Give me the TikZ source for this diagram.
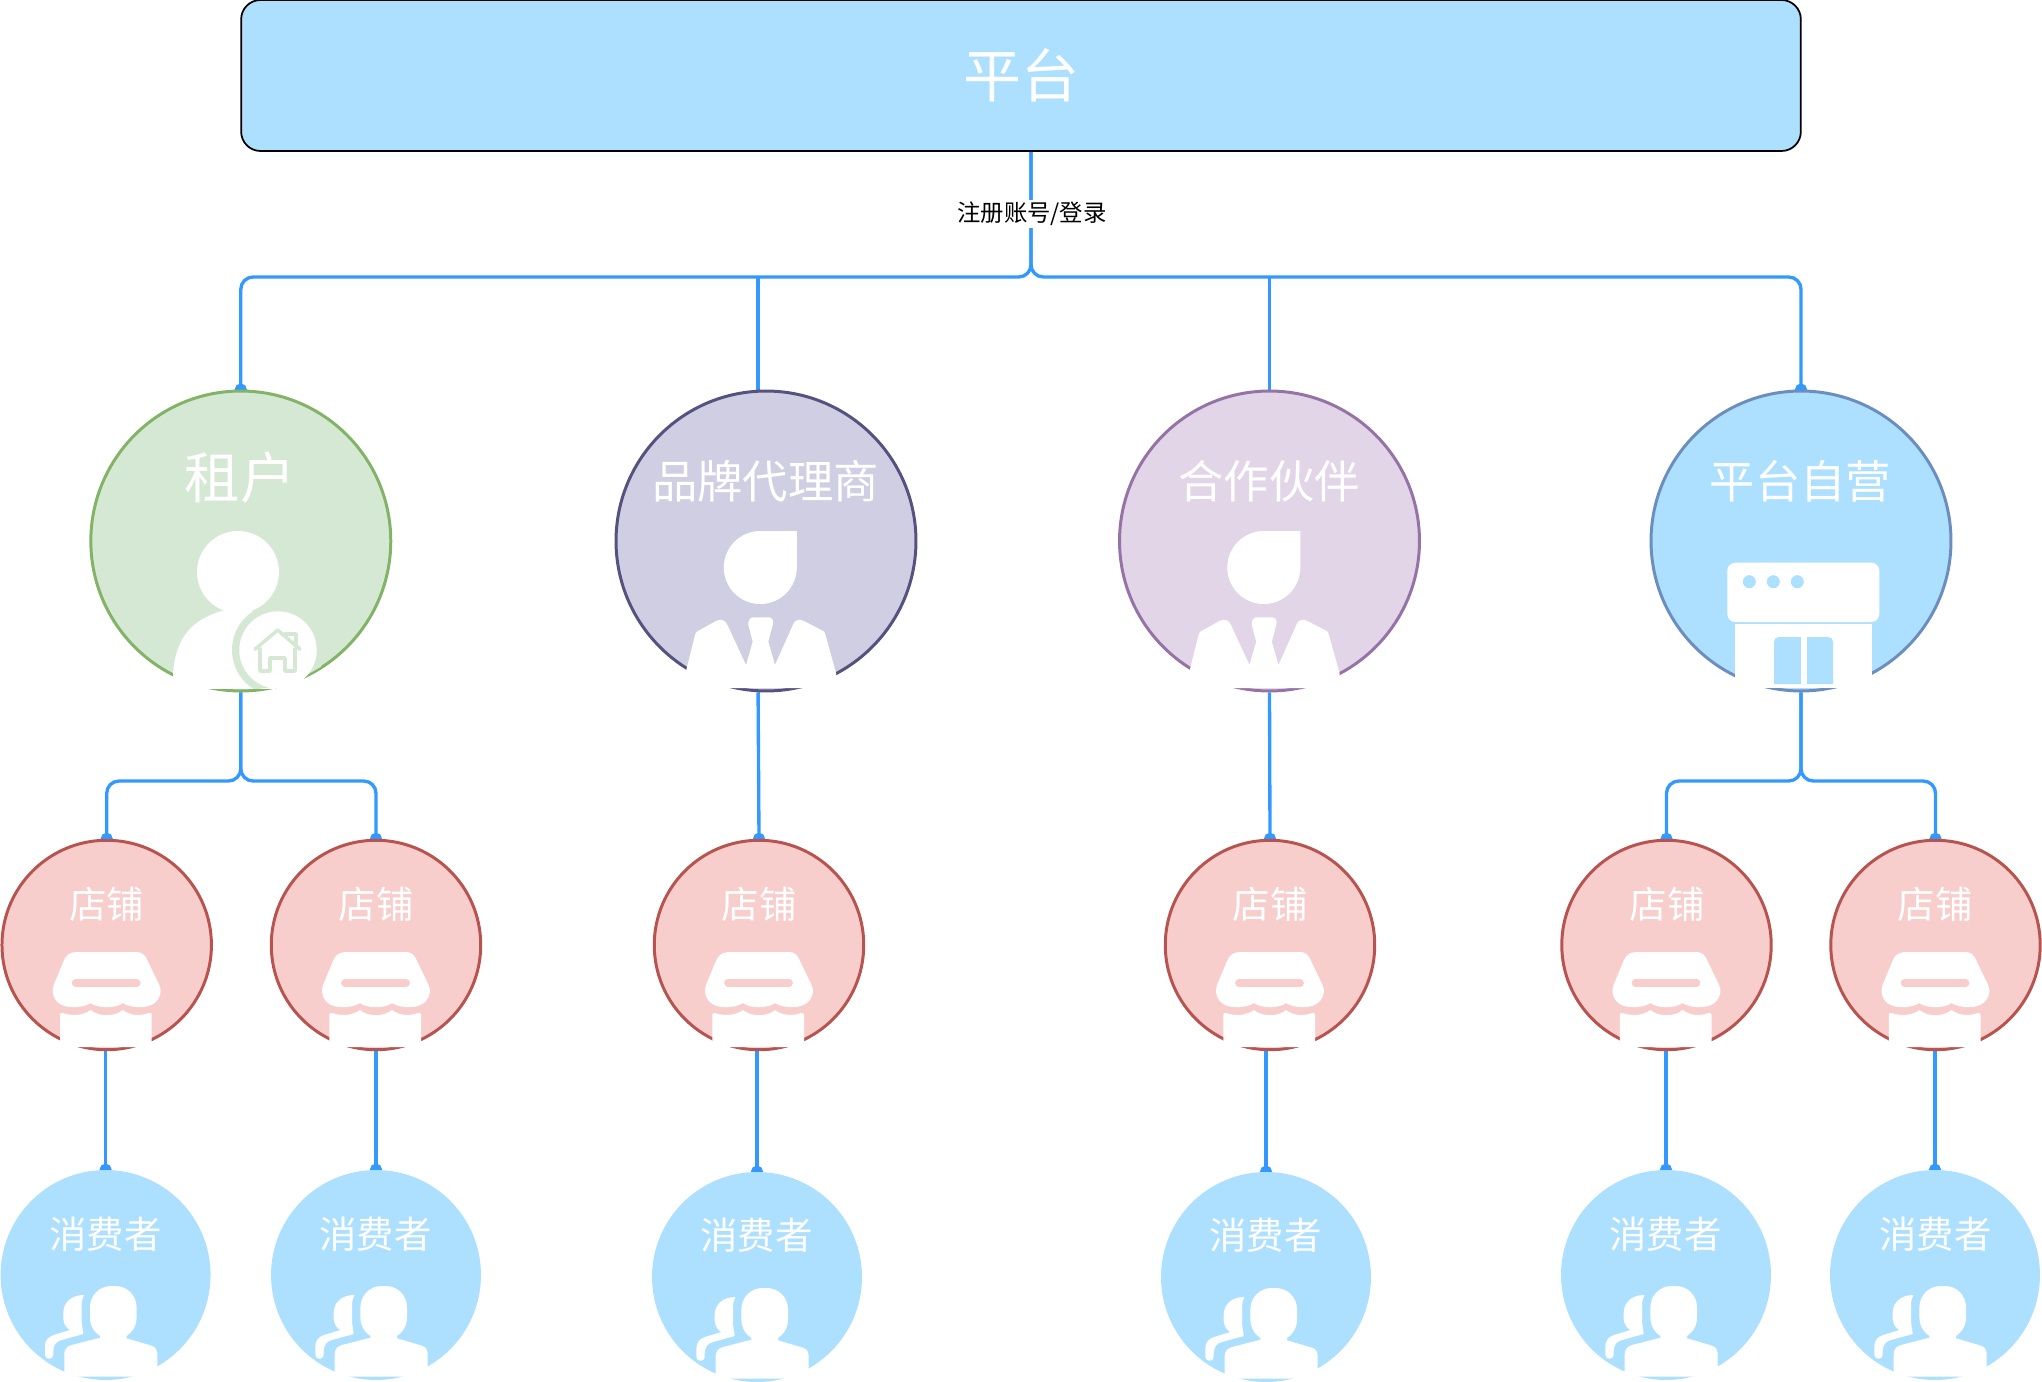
\documentclass[tikz,border=0pt]{standalone}
\usepackage{fontspec}
\setmainfont{Noto Sans CJK SC}
\usetikzlibrary{positioning, arrows.meta, backgrounds}

\definecolor{skyfill}{HTML}{ADE0FF}
\definecolor{linkblue}{HTML}{3399FF}
\definecolor{tenantfill}{HTML}{D5E8D4}
\definecolor{tenantline}{HTML}{82B366}
\definecolor{brandfill}{HTML}{D0CEE2}
\definecolor{brandline}{HTML}{56517E}
\definecolor{partnerfill}{HTML}{E1D5E7}
\definecolor{partnerline}{HTML}{9673A6}
\definecolor{selfline}{HTML}{6C8EBF}
\definecolor{shopfill}{HTML}{F8CECC}
\definecolor{shopline}{HTML}{B85450}

\tikzset{
	bigcircle/.style={circle, minimum size=6cm, inner sep=0pt, line width=1.7pt},
	shopcircle/.style={circle, minimum size=4.19cm, inner sep=0pt, line width=1.7pt, draw=shopline, fill=shopfill},
	usercircle/.style={circle, minimum size=4.2cm, inner sep=0pt, fill=skyfill},
	titletext/.style={text=white, font=\fontsize{33pt}{33pt}\selectfont},
	tenanttext/.style={text=white, font=\fontsize{31.5pt}{31.5pt}\selectfont},
	roletext/.style={text=white, font=\fontsize{25.8pt}{25.8pt}\selectfont},
	smalltext/.style={text=white, font=\fontsize{21.3pt}{21.3pt}\selectfont},
	link/.style={draw=linkblue, line width=1.9pt, rounded corners=7pt},
	linkdot/.style={link, -{Circle[length=6.8pt, width=6.8pt]}, shorten >=-3.4pt},
	pics/suiticon/.style={code={
		\fill[white]	(30.8, -10) -- (-5.7, -10) arc[start angle=270, end angle=0, radius=36.5] -- cycle;
		\fill[white]	(-80, 147) -- (-80, 130) -- (-71, 94) .. controls (-70.5, 92) and (-70, 91) .. (-68, 90)
			-- (-50, 80) .. controls (-45, 77.5) and (-41, 79) .. (-39, 83) -- (-20, 124) -- (-13.3, 100.7) -- (-17.7, 84)
			.. controls (-18, 79) and (-16, 76.3) .. (-12.7, 76.3) -- (2.3, 76.3) .. controls (6, 76.3) and (8, 79) .. (6.7, 84)
			-- (2.3, 100.7) -- (9, 124) -- (27.3, 83) .. controls (29, 79) and (33, 77.5) .. (38, 80)
			-- (57, 90) .. controls (58.5, 91) and (59, 92) .. (59.5, 94) -- (70, 132) -- (70, 147) -- cycle;
	}},
	pics/shopicon/.style={code={
		\begin{scope}[shift={(0, -2)}]
		\fill[white]	(-30, 9) -- (30, 9) .. controls (35, 9) and (39, 12) .. (41, 18) -- (52.6, 42)
			.. controls (53.5, 44) and (54, 45) .. (54, 47) .. controls (54, 58) and (45, 64) .. (35, 64)
			.. controls (28, 64.5) and (20, 63) .. (16, 60) .. controls (10, 65.5) and (-10, 65.5) .. (-16, 60)
			.. controls (-20, 63) and (-28, 64.5) .. (-35, 64) .. controls (-46, 64) and (-54, 58) .. (-54, 47)
			.. controls (-54, 45) and (-53.5, 44) .. (-53, 42) -- (-43, 18) .. controls (-41, 12) and (-36, 9) .. (-30, 9) -- cycle;
		\draw[shopfill, line width=4.4pt, line cap=round]	(-31, 40) -- (30, 40);
		\fill[white]	(-46.7, 72) .. controls (-46.7, 70) and (-45.5, 69.5) .. (-44, 70)
			.. controls (-36, 73) and (-24, 73) .. (-16, 67) .. controls (-8, 74) and (8, 74) .. (16, 67)
			.. controls (24, 73) and (34, 73) .. (42, 70) .. controls (44, 69.5) and (45, 70) .. (45, 72)
			-- (45, 104) -- (-46.7, 104) -- cycle;
		\end{scope}
	}},
	pics/usericon/.style={code={
		\fill[white, rounded corners=12pt]	(-15.6, 11) rectangle (31, 64);
		\fill[white]	(-5.6, 60) -- (21, 60) -- (21, 63.3) -- (46, 70.7) .. controls (50, 72) and (51.7, 75) .. (51.7, 78)
			-- (51.7, 101.7) -- (-41.3, 101.7) -- (-41.3, 79) .. controls (-41.3, 74) and (-38, 71) .. (-34, 70) -- (-5.6, 62.7) -- cycle;
		\fill[white]	(-21.6, 20) .. controls (-35, 20) and (-42.3, 28) .. (-42.3, 38) -- (-42.3, 44)
			.. controls (-42, 50) and (-38, 54) .. (-35.6, 55) -- (-52, 60) .. controls (-58, 62) and (-60.6, 66) .. (-60.6, 71)
			-- (-60.6, 80) .. controls (-60.6, 85) and (-52.3, 85) .. (-52.3, 80) -- (-52.3, 76)
			.. controls (-52.3, 70) and (-49, 66) .. (-44, 65) -- (-22.3, 59) .. controls (-23, 52) and (-24, 50) .. (-24, 44)
			-- (-24, 30) .. controls (-24, 26) and (-23, 23) .. (-21.6, 20) -- cycle;
	}},
}

\begin{document}
\begin{tikzpicture}[x=0.02cm, y=-0.02cm]
	\useasboundingbox (0, 0) rectangle (2042, 1382);

	% top box
	\node	(platform)	at	(1021, 75.5)	[draw=black, fill=skyfill, line width=1pt, rounded corners=11pt, minimum width=31.2cm, minimum height=3.02cm, titletext]	{平台};

	% second row
	\node	(tenant)	at	(240.8, 541)	[bigcircle, draw=tenantline, fill=tenantfill]	{};
	\node	(brand)		at	(766, 541)		[bigcircle, draw=brandline, fill=brandfill]	{};
	\node	(partner)	at	(1269.5, 541)	[bigcircle, draw=partnerline, fill=partnerfill]	{};
	\node	(selfrun)	at	(1801, 541)		[bigcircle, draw=selfline, fill=skyfill]	{};

	% tenant icon
	\begin{scope}
		\clip (100, 400) rectangle (380, 688);
		\fill[white]	(238, 572) circle (41);
		\fill[white]	(173, 690) -- (173, 675) .. controls (175, 635) and (195, 618) .. (225, 610) -- (250, 607) -- (270, 640) -- (275, 690) -- cycle;
		\begin{scope}
			\clip (240.8, 541) circle (149);
			\fill[tenantfill]	(278, 650) circle (46);
		\end{scope}
		\fill[white]	(278, 650) circle (38.7);
	\end{scope}
	\draw[tenantfill, line width=2pt, line join=round, line cap=round]	(255, 649.3) -- (277.7, 630) -- (300, 649.3);
	\draw[tenantfill, line width=2pt, line join=round, line cap=round]	(260, 649) -- (260, 671) -- (270, 671) -- (270, 658) -- (285, 658) -- (285, 671) -- (295, 671) -- (295, 649);
	\draw[tenantfill, line width=2pt, line join=round, line cap=round]	(285, 634) -- (296, 634) -- (296, 645);

	% suit icons
	\pic	at	(brand)		{suiticon};
	\pic	at	(partner)	{suiticon};

	% store icon
	\fill[white, rounded corners=4.5pt]	(1727.3, 562.7) rectangle (1879.3, 622);
	\fill[skyfill]	(1749.3, 581.7) circle (6.5);
	\fill[skyfill]	(1773.3, 581.7) circle (6.5);
	\fill[skyfill]	(1797.3, 581.7) circle (6.5);
	\fill[white]	(1735, 624) rectangle (1872, 688);
	\fill[skyfill]	(1774, 684) -- (1774, 642) .. controls (1774, 639) and (1776, 637) .. (1779, 637) -- (1828, 637) .. controls (1831, 637) and (1833, 639) .. (1833, 642) -- (1833, 684) -- cycle;
	\fill[white]	(1801, 637) rectangle (1806.7, 684);

	% shops
	\node	(shopA)	at	(106.7, 945)	[shopcircle]	{};
	\node	(shopB)	at	(376, 945)		[shopcircle]	{};
	\node	(shopC)	at	(759, 945)		[shopcircle]	{};
	\node	(shopD)	at	(1270, 945)		[shopcircle]	{};
	\node	(shopE)	at	(1666.5, 945)	[shopcircle]	{};
	\node	(shopF)	at	(1935.5, 945)	[shopcircle]	{};
	\pic	at	(shopA)	{shopicon};
	\pic	at	(shopB)	{shopicon};
	\pic	at	(shopC)	{shopicon};
	\pic	at	(shopD)	{shopicon};
	\pic	at	(shopE)	{shopicon};
	\pic	at	(shopF)	{shopicon};

	% consumers
	\node	(userA)	at	(105.6, 1275)	[usercircle]	{};
	\node	(userB)	at	(376, 1275)		[usercircle]	{};
	\node	(userC)	at	(757, 1277)		[usercircle]	{};
	\node	(userD)	at	(1266, 1277)	[usercircle]	{};
	\node	(userE)	at	(1666, 1275)	[usercircle]	{};
	\node	(userF)	at	(1935, 1275)	[usercircle]	{};
	\pic	at	(userA)	{usericon};
	\pic	at	(userB)	{usericon};
	\pic	at	(userC)	{usericon};
	\pic	at	(userD)	{usericon};
	\pic	at	(userE)	{usericon};
	\pic	at	(userF)	{usericon};

	% texts
	\node	(tenantname)	at	(240, 477)		[tenanttext]	{租户};
	\node	(brandname)		at	(765.5, 481)	[roletext]		{品牌代理商};
	\node	(partnername)	at	(1269, 481)		[roletext]		{合作伙伴};
	\node	(selfname)		at	(1800.5, 481)	[roletext]		{平台自营};
	\node	(shopnameA)		at	(106.7, 904)	[smalltext]		{店铺};
	\node	(shopnameB)		at	(376, 904)		[smalltext]		{店铺};
	\node	(shopnameC)		at	(759, 904)		[smalltext]		{店铺};
	\node	(shopnameD)		at	(1270, 904)		[smalltext]		{店铺};
	\node	(shopnameE)		at	(1667, 904)		[smalltext]		{店铺};
	\node	(shopnameF)		at	(1935, 904)		[smalltext]		{店铺};
	\node	(usernameA)		at	(105.5, 1234)	[smalltext]		{消费者};
	\node	(usernameB)		at	(375.5, 1234)	[smalltext]		{消费者};
	\node	(usernameC)		at	(756.5, 1235)	[smalltext]		{消费者};
	\node	(usernameD)		at	(1265.5, 1235)	[smalltext]		{消费者};
	\node	(usernameE)		at	(1665.5, 1234)	[smalltext]		{消费者};
	\node	(usernameF)		at	(1935.5, 1234)	[smalltext]		{消费者};

	\coordinate	(hubtop)	at	(1031, 277);
	\coordinate	(hubleft)	at	(240.8, 781);
	\coordinate	(hubright)	at	(1801, 781);

	% connectors stay under the circles
	\begin{pgfonlayer}{background}
		\draw	[linkdot]	(platform.south -| hubtop) -- (hubtop) -- (hubtop -| tenant.90.5) -- (tenant.90.5);
		\draw	[linkdot]	(platform.south -| hubtop) -- (hubtop) -- (hubtop -| selfrun.90.5) -- (selfrun.90.5);
		\draw	[link]		(hubtop -| brand.93) -- (brand.93);
		\draw	[link]		(hubtop -| partner.90.7) -- (partner.90.7);

		\draw	[linkdot]	(tenant.south) -- (hubleft) -- (hubleft -| shopA.north) -- (shopA.north);
		\draw	[linkdot]	(tenant.south) -- (hubleft) -- (hubleft -| shopB.north) -- (shopB.north);
		\draw	[linkdot]	(brand.267) -- (shopC.north);
		\draw	[linkdot]	(partner.south) -- (shopD.north);
		\draw	[linkdot]	(selfrun.south) -- (hubright) -- (hubright -| shopE.north) -- (shopE.north);
		\draw	[linkdot]	(selfrun.south) -- (hubright) -- (hubright -| shopF.north) -- (shopF.north);

		\draw	[linkdot]	(shopA.south -| userA.north) -- (userA.north);
		\draw	[linkdot]	(shopB.south -| userB.north) -- (userB.north);
		\draw	[linkdot]	(shopC.south -| userC.north) -- (userC.north);
		\draw	[linkdot]	(shopD.south -| userD.north) -- (userD.north);
		\draw	[linkdot]	(shopE.south -| userE.north) -- (userE.north);
		\draw	[linkdot]	(shopF.south -| userF.north) -- (userF.north);
	\end{pgfonlayer}

	\node	(signin)	at	(1032, 214)	[fill=white, inner sep=1pt, font=\fontsize{13.3pt}{13.3pt}\selectfont]	{注册账号/登录};
\end{tikzpicture}
\end{document}
